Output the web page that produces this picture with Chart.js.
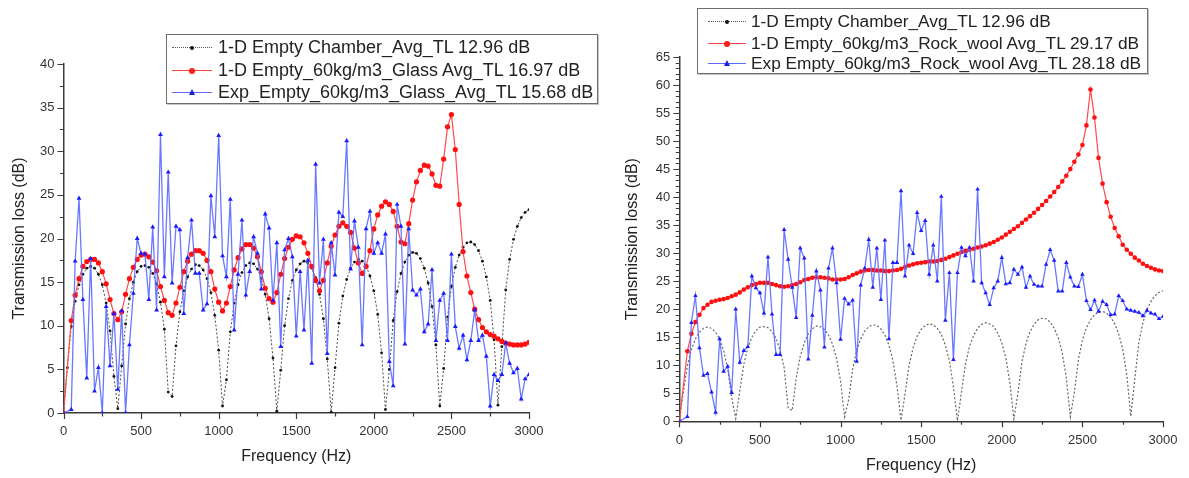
<!DOCTYPE html>
<html><head><meta charset="utf-8">
<script src="https://cdn.jsdelivr.net/npm/chart.js@4.4.1/dist/chart.umd.min.js"></script>
<style>
html,body{margin:0;padding:0;background:#fff;}
body{width:1189px;height:478px;position:relative;overflow:hidden;font-family:"Liberation Sans",Arial,sans-serif;}
canvas{position:absolute;top:0;}
#c1{left:0;}
#c2{left:600px;}
.legend{position:absolute;background:#fff;border:1.5px solid #6e6e6e;box-shadow:1px 1px 0 #c4c4c4;color:#222;font-size:18px;box-sizing:border-box;}
.row{position:absolute;left:0;right:0;height:0;}
.line{position:absolute;top:0;height:0;}
.dot{position:absolute;border-radius:50%;}
.tri{position:absolute;width:0;height:0;border-left:3.5px solid transparent;border-right:3.5px solid transparent;border-bottom:6px solid #1a1aff;}
.lab{position:absolute;top:-11px;line-height:22px;white-space:nowrap;}
</style></head>
<body>
<canvas id="c1" width="600" height="478"></canvas>
<canvas id="c2" width="589" height="478"></canvas>

<div class="legend" style="left:166px;top:34px;width:432px;height:70px;">
  <div class="row" style="top:12px;">
    <div class="line" style="left:5px;width:40px;border-top:1.5px dotted #555;"></div>
    <div class="dot" style="left:23px;top:-1.5px;width:4px;height:4px;background:#111;"></div>
    <div class="lab" style="left:51px;">1-D Empty Chamber_Avg_TL 12.96 dB</div>
  </div>
  <div class="row" style="top:35px;">
    <div class="line" style="left:5px;width:40px;border-top:1.5px solid #ff4040;"></div>
    <div class="dot" style="left:22px;top:-2.5px;width:6px;height:6px;background:#ff1a1a;"></div>
    <div class="lab" style="left:51px;">1-D Empty_60kg/m3_Glass Avg_TL 16.97 dB</div>
  </div>
  <div class="row" style="top:57px;">
    <div class="line" style="left:5px;width:40px;border-top:1.5px solid #5a6aff;"></div>
    <div class="tri" style="left:21.5px;top:-3.5px;"></div>
    <div class="lab" style="left:51px;">Exp_Empty_60kg/m3_Glass_Avg_TL 15.68 dB</div>
  </div>
</div>

<div class="legend" style="left:697px;top:8px;width:451px;height:66px;font-size:17.3px;">
  <div class="row" style="top:12px;">
    <div class="line" style="left:10px;width:38px;border-top:1.5px dotted #555;"></div>
    <div class="dot" style="left:27px;top:-1.5px;width:4px;height:4px;background:#111;"></div>
    <div class="lab" style="left:53px;">1-D Empty Chamber_Avg_TL 12.96 dB</div>
  </div>
  <div class="row" style="top:34px;">
    <div class="line" style="left:10px;width:38px;border-top:1.5px solid #ff4040;"></div>
    <div class="dot" style="left:26px;top:-2.5px;width:6px;height:6px;background:#ff1a1a;"></div>
    <div class="lab" style="left:53px;">1-D Empty_60kg/m3_Rock_wool Avg_TL 29.17 dB</div>
  </div>
  <div class="row" style="top:54px;">
    <div class="line" style="left:10px;width:38px;border-top:1.5px solid #5a6aff;"></div>
    <div class="tri" style="left:25.5px;top:-3.5px;"></div>
    <div class="lab" style="left:53px;">Exp Empty_60kg/m3_Rock_wool Avg_TL 28.18 dB</div>
  </div>
</div>

<script>
// ---------- data ----------
const freqHz = [
  0,25,50,75,100,125,150,175,200,225,
  250,275,300,325,350,375,400,425,450,475,
  500,525,550,575,600,625,650,675,700,725,
  750,775,800,825,850,875,900,925,950,975,
  1000,1025,1050,1075,1100,1125,1150,1175,1200,1225,
  1250,1275,1300,1325,1350,1375,1400,1425,1450,1475,
  1500,1525,1550,1575,1600,1625,1650,1675,1700,1725,
  1750,1775,1800,1825,1850,1875,1900,1925,1950,1975,
  2000,2025,2050,2075,2100,2125,2150,2175,2200,2225,
  2250,2275,2300,2325,2350,2375,2400,2425,2450,2475,
  2500,2525,2550,2575,2600,2625,2650,2675,2700,2725,
  2750,2775,2800,2825,2850,2875,2900,2925,2950,2975,
  3000
];

// 1-D empty chamber (same curve in both panels)
const emptyChamberTL = [
  0,5.2,9.9,12.8,14.7,15.9,16.6,16.8,16.6,15.9,
  14.7,12.6,9.4,4.2,0.5,5.4,10.2,13.1,15.0,16.2,
  16.8,16.9,16.7,16.0,14.8,12.7,9.6,2.4,1.9,7.7,
  11.6,14.0,15.6,16.5,17.0,16.9,16.4,15.4,13.8,11.2,
  7.2,0.8,3.8,9.3,12.6,14.7,16.1,16.9,17.2,17.1,
  16.5,15.4,13.6,10.8,6.3,0.2,4.9,10.0,13.1,15.2,
  16.4,17.1,17.4,17.2,16.6,15.5,13.6,10.8,6.2,0.1,
  5.2,10.3,13.4,15.3,16.6,17.3,17.6,17.4,16.9,15.7,
  14.0,11.3,6.9,0.4,5.0,10.6,13.9,16.0,17.3,18.1,
  18.4,18.3,17.7,16.6,14.9,12.2,7.8,0.8,5.1,11.0,
  14.5,16.7,18.1,19.0,19.5,19.6,19.3,18.6,17.4,15.6,
  12.9,8.4,0.9,7.6,14.1,17.6,19.9,21.4,22.4,23.0,
  23.3
];

// left panel: glass wool
const glass1D_TL = [
  0,null,10.6,13.5,15.4,16.8,17.35,17.6,17.6,17.2,
  16.2,14.8,13.0,11.4,10.7,11.6,13.6,15.4,16.7,17.6,
  18.1,18.2,17.9,17.3,16.3,14.5,12.9,11.5,11.2,12.6,
  14.4,16.2,17.4,18.2,18.6,18.6,18.3,17.5,16.2,14.2,
  12.7,11.7,12.6,14.5,16.4,17.8,18.8,19.3,19.3,18.9,
  17.9,16.2,14.3,13.1,12.7,13.8,15.9,17.7,19.0,19.9,
  20.3,20.2,19.5,18.3,16.8,15.2,14.0,15.2,17.2,19.1,
  20.4,21.4,21.8,21.4,20.7,18.9,17.2,16.0,16.8,18.6,
  21.1,22.7,23.7,24.2,23.9,23.1,21.4,19.6,19.4,21.7,
  24.4,26.5,27.8,28.4,28.3,27.4,26.1,26.0,29.1,32.8,
  34.2,30.2,23.9,18.5,15.7,13.8,11.9,10.7,9.8,9.3,
  9.0,8.8,8.5,8.2,8.0,7.9,7.8,7.8,7.8,7.9,
  8.1
];
const glassExp_TL = [
  0,null,0.4,17.4,24.6,13.0,4.0,17.7,2.5,5.2,
  0,12.2,5.4,11.4,2.7,11.7,0,7.8,13.7,20.0,
  18.3,18.2,13.0,21.3,11.8,31.9,15.6,27.6,14.9,21.4,
  21.0,11.4,17.8,22.1,16.0,16.0,11.8,12.5,24.9,20.2,
  31.8,18.0,15.6,24.5,9.5,15.9,22.1,13.5,16.2,20.2,
  18.3,14.2,22.8,21.2,12.9,19.5,7.6,18.7,20.0,17.9,
  8.8,16.2,9.5,17.5,5.7,28.5,14.9,19.9,6.8,19.5,
  15.8,23.0,22.5,31.2,16.5,22.0,19.0,7.8,21.1,23.1,
  18.3,19.5,18.3,20.5,5.9,3.1,23.9,21.4,7.9,21.1,
  14.1,13.5,14.2,9.3,10.2,16.4,8.3,12.9,13.7,8.3,
  18.2,9.9,7.4,8.9,6.1,8.3,11.8,8.3,8.9,6.5,
  0.8,4.4,3.7,4.4,8.0,5.7,4.6,5.1,1.6,3.9,
  4.4
];

// right panel: rock wool
const rock1D_TL = [
  0,null,12.5,15.6,17.7,19.0,20.2,20.8,21.3,21.5,
  21.7,21.8,22.0,22.3,22.6,23.0,23.5,23.9,24.3,24.5,
  24.7,24.7,24.7,24.5,24.3,24.1,24.0,24.1,24.3,24.5,
  24.8,25.2,25.4,25.6,25.7,25.7,25.6,25.5,25.3,25.3,
  25.3,25.4,25.7,26.1,26.4,26.7,26.9,27.0,27.0,26.9,
  26.9,26.8,26.8,26.9,27.0,27.2,27.5,27.8,28.0,28.2,
  28.3,28.4,28.5,28.5,28.6,28.8,29.0,29.3,29.6,29.9,
  30.2,30.4,30.6,30.8,31.0,31.2,31.4,31.7,32.0,32.4,
  32.8,33.3,33.8,34.3,34.8,35.4,36.0,36.6,37.2,37.9,
  38.6,39.3,40.1,40.9,41.8,42.8,43.8,45.0,46.3,47.6,
  49.3,52.8,59.2,54.2,47.0,42.4,39.1,36.5,34.5,33.0,
  31.5,30.6,29.9,29.2,28.7,28.1,27.7,27.4,27.1,26.9,
  26.8
];
const rockExp_TL = [
  0,null,0.8,17.6,22.4,13.1,8.2,8.5,5.2,1.6,
  14.7,8.9,9.8,5.1,20.0,10.5,12.6,13.3,25.9,23.8,
  22.9,19.3,29.3,19.1,11.9,11.9,34.2,28.9,23.9,18.5,
  30.9,29.1,11.1,18.9,26.8,23.4,13.2,27.3,30.9,24.7,
  14.6,21.9,20.9,21.6,10.7,24.3,27.3,32.4,23.9,30.9,
  21.7,32.3,14.7,28.3,28.3,41.1,25.9,31.4,29.9,37.2,
  34.0,35.8,26.2,31.4,25.0,40.1,18.0,26.5,11.0,26.5,
  31.0,29.5,31.0,25.0,41.4,24.7,22.9,20.8,23.8,25.0,
  29.2,24.5,24.7,27.1,26.2,27.5,23.9,25.9,24.4,24.1,
  24.1,28.0,30.6,28.7,23.2,23.2,28.3,25.7,24.1,24.0,
  26.2,21.5,19.9,21.6,19.6,21.4,20.8,19.0,19.1,22.4,
  21.5,20.0,19.8,19.6,19.4,18.8,19.8,19.3,19.1,18.3,
  18.7
];

const seriesLabels = [
  '1-D Empty Chamber_Avg_TL 12.96 dB',
  '1-D Empty_60kg/m3_Glass Avg_TL 16.97 dB',
  'Exp_Empty_60kg/m3_Glass_Avg_TL 15.68 dB',
  '1-D Empty_60kg/m3_Rock_wool Avg_TL 29.17 dB',
  'Exp Empty_60kg/m3_Rock_wool Avg_TL 28.18 dB'
];
const xTitle = 'Frequency (Hz)';
const yTitle = 'Transmission loss (dB)';

// ---------- helpers ----------
const pts = arr => arr.map((v, i) => ({x: freqHz[i], y: v}));

const tickPlugin = {
  id: 'axisTicks',
  afterDraw(chart, args, o) {
    const ctx = chart.ctx, xs = chart.scales.x, ys = chart.scales.y;
    const ca = chart.chartArea;
    ctx.save();
    ctx.strokeStyle = '#3a3a3a';
    ctx.lineWidth = 1.2;
    ctx.beginPath();
    const nx = Math.round((xs.max - xs.min) / o.xMinor);
    for (let i = 0; i <= nx; i++) {
      const v = xs.min + i * o.xMinor;
      const px = Math.round(xs.getPixelForValue(v)) + 0.5;
      const major = Math.abs(v / o.xMajor - Math.round(v / o.xMajor)) < 1e-6;
      ctx.moveTo(px, ca.bottom);
      ctx.lineTo(px, ca.bottom + (major ? o.majorLen : o.minorLen));
    }
    const ny = Math.round((ys.max - ys.min) / o.yMinor);
    for (let i = 0; i <= ny; i++) {
      const v = ys.min + i * o.yMinor;
      const py = Math.round(ys.getPixelForValue(v)) + 0.5;
      const major = Math.abs(v / o.yMajor - Math.round(v / o.yMajor)) < 1e-6;
      ctx.moveTo(ca.left, py);
      ctx.lineTo(ca.left - (major ? o.majorLen : o.minorLen), py);
    }
    ctx.stroke();
    ctx.restore();
  }
};

function axisCommon(extra) {
  return Object.assign({
    grid: {display: false, drawTicks: false},
    border: {display: true, color: '#3a3a3a', width: 1.5},
  }, extra);
}

const tickFont = {family: '"Liberation Sans", Arial, sans-serif', size: 13};
const titleFont = {family: '"Liberation Sans", Arial, sans-serif', size: 16};

function makeChart(id, cfg) {
  return new Chart(document.getElementById(id), {
    type: 'line',
    data: {datasets: cfg.datasets},
    plugins: [tickPlugin],
    options: {
      responsive: false,
      animation: false,
      events: [],
      layout: {padding: cfg.padding},
      plugins: {legend: {display: false}, tooltip: {enabled: false},
                axisTicks: cfg.ticks},
      elements: {line: {tension: 0}},
      scales: {
        x: axisCommon({
          type: 'linear', min: 0, max: 3000,
          afterFit(s) { s.height = cfg.xHeight; },
          ticks: {stepSize: 500, padding: cfg.xPad, color: '#333', maxRotation: 0, autoSkip: false,
                  font: tickFont, callback: v => String(v)},
          title: {display: true, text: xTitle, color: '#222', font: titleFont,
                  padding: {top: 0, bottom: cfg.xTitlePad}}
        }),
        y: axisCommon({
          type: 'linear', min: 0, max: cfg.yMax,
          afterFit(s) { s.width = cfg.yWidth; },
          ticks: {stepSize: 5, padding: 9, color: '#333', autoSkip: false,
                  font: tickFont, callback: v => String(v)},
          title: {display: true, text: yTitle, color: '#222', font: titleFont,
                  padding: {top: cfg.yTitlePad, bottom: 0}}
        })
      }
    }
  });
}

// ---------- left panel ----------
makeChart('c1', {
  padding: {left: 0, right: 71, top: 64, bottom: 0},
  xHeight: 65, yWidth: 63.5, yMax: 40, xPad: 11, xTitlePad: 11.5, yTitlePad: 10,
  ticks: {xMajor: 500, xMinor: 250, yMajor: 5, yMinor: 2.5, majorLen: 6, minorLen: 3.5},
  datasets: [
    {label: seriesLabels[0], data: pts(emptyChamberTL), order: 3,
     borderColor: '#4a4a4a', borderWidth: 1, borderDash: [2, 2],
     pointRadius: 1.4, pointBackgroundColor: '#111', pointBorderWidth: 0},
    {label: seriesLabels[1], data: pts(glass1D_TL), order: 2, spanGaps: true,
     borderColor: '#ff4a4a', borderWidth: 1.2,
     pointRadius: 2.6, pointBackgroundColor: '#ff1010', pointBorderWidth: 0},
    {label: seriesLabels[2], data: pts(glassExp_TL), order: 1, spanGaps: true,
     borderColor: 'rgba(90,105,255,0.9)', borderWidth: 1.3,
     pointStyle: 'triangle', pointRadius: 2.8, pointBackgroundColor: '#1a1aff', pointBorderWidth: 0}
  ]
});

// ---------- right panel ----------
makeChart('c2', {
  padding: {left: 0, right: 22, top: 57, bottom: 0},
  xHeight: 56.7, yWidth: 79.3, yMax: 65, xPad: 11.5, xTitlePad: 2.4, yTitlePad: 23.4,
  ticks: {xMajor: 500, xMinor: 250, yMajor: 5, yMinor: 1, majorLen: 6, minorLen: 3.5},
  datasets: [
    {label: seriesLabels[0], data: pts(emptyChamberTL), order: 3,
     borderColor: '#666', borderWidth: 1.2, borderDash: [2, 2],
     pointRadius: 0},
    {label: seriesLabels[3], data: pts(rock1D_TL), order: 2, spanGaps: true,
     borderColor: '#ff4a4a', borderWidth: 1.2,
     pointRadius: 2.3, pointBackgroundColor: '#ff1010', pointBorderWidth: 0},
    {label: seriesLabels[4], data: pts(rockExp_TL), order: 1, spanGaps: true,
     borderColor: 'rgba(90,105,255,0.9)', borderWidth: 1.3,
     pointStyle: 'triangle', pointRadius: 2.6, pointBackgroundColor: '#1a1aff', pointBorderWidth: 0}
  ]
});
</script>
</body></html>
